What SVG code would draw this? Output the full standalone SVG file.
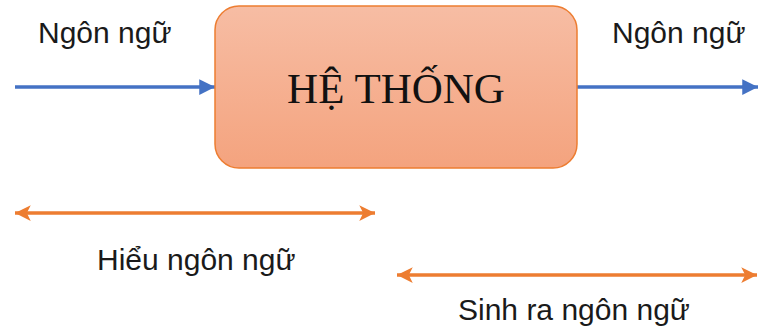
<svg xmlns="http://www.w3.org/2000/svg" width="758" height="331" viewBox="0 0 758 331">
<defs>
<linearGradient id="g" x1="0" y1="0" x2="0" y2="1">
<stop offset="0" stop-color="#f7bda4"/>
<stop offset="1" stop-color="#f4a37e"/>
</linearGradient>
<marker id="ab" viewBox="0 0 10 10" refX="10" refY="5" markerWidth="4.5" markerHeight="4.5" markerUnits="strokeWidth" orient="auto-start-reverse">
<path d="M0,0 L10,5 L0,10 z" fill="#4472c4"/>
</marker>
<marker id="ao" viewBox="0 0 10 10" refX="10" refY="5" markerWidth="4.5" markerHeight="4.5" markerUnits="strokeWidth" orient="auto-start-reverse">
<path d="M0,0 L10,5 L0,10 L2.5,5 z" fill="#ed7d31"/>
</marker>
<style>
.lbl{font-family:"Liberation Sans",Arial,sans-serif;font-size:30px;fill:#1a1a1a}
.ttl{font-family:"Liberation Serif","Times New Roman",serif;font-size:43px;fill:#111}
.blue{stroke:#4472c4;stroke-width:3.5;fill:none}
.orng{stroke:#ed7d31;stroke-width:3.5;fill:none}
</style>
</defs>
<g id="connectors">
<line class="blue" x1="15" y1="87" x2="215" y2="87" marker-end="url(#ab)"/>
<line class="blue" x1="577" y1="87" x2="758" y2="87" marker-end="url(#ab)"/>
<line class="orng" x1="15" y1="213" x2="375" y2="213" marker-start="url(#ao)" marker-end="url(#ao)"/>
<line class="orng" x1="397" y1="275" x2="757" y2="275" marker-start="url(#ao)" marker-end="url(#ao)"/>
</g>
<g id="node-system">
<rect x="215" y="6" width="362" height="162" rx="24" fill="url(#g)" stroke="#ed7d31" stroke-width="1.5"/>
<text class="ttl" x="396" y="103" text-anchor="middle">HỆ THỐNG</text>
</g>
<g id="label-in"><text class="lbl" x="38" y="43">Ngôn ngữ</text></g>
<g id="label-out"><text class="lbl" x="612" y="43">Ngôn ngữ</text></g>
<g id="label-understand"><text class="lbl" x="97" y="270">Hiểu ngôn ngữ</text></g>
<g id="label-generate"><text class="lbl" x="458" y="320">Sinh ra ngôn ngữ</text></g>
</svg>
